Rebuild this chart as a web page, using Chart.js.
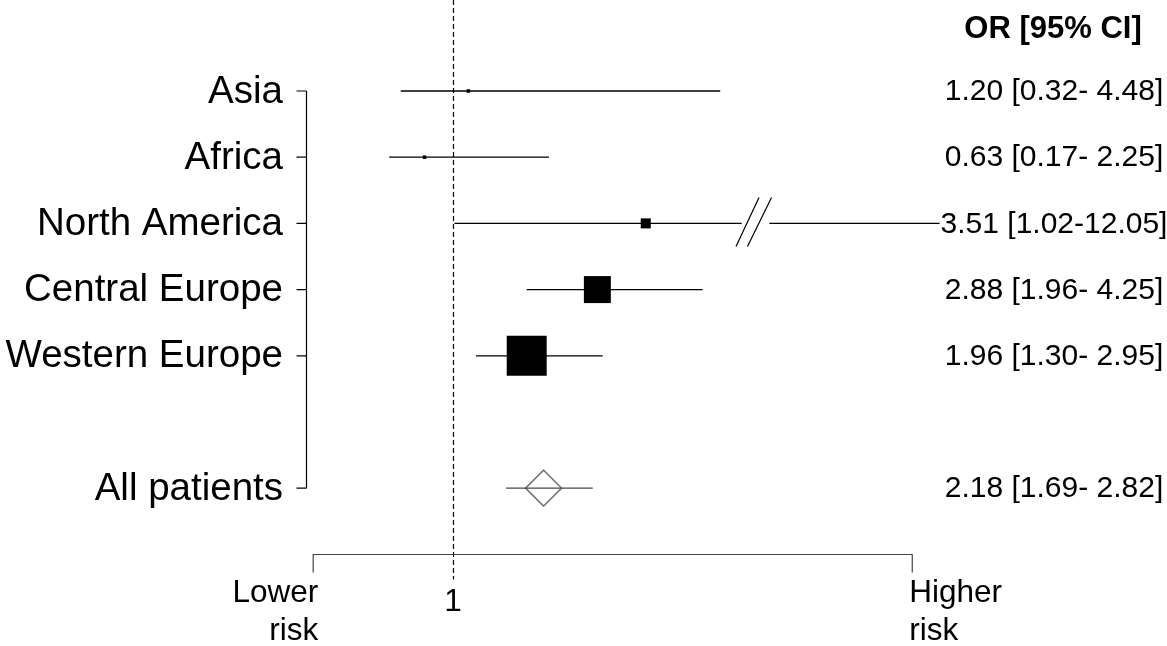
<!DOCTYPE html>
<html>
<head>
<meta charset="utf-8">
<script src="https://cdn.jsdelivr.net/npm/chart.js@4.4.1/dist/chart.umd.min.js"></script>
<style>
  html, body { margin: 0; padding: 0; background: #fff; }
  #wrap { width: 1167px; height: 646px; position: relative; }
</style>
</head>
<body>
<div id="wrap"><canvas id="forest"></canvas></div>
<script>
// forest plot data
const regions = ["Asia", "Africa", "North America", "Central Europe", "Western Europe", "All patients"];
const rowPos = [1, 2, 3, 4, 5, 7];
const oddsRatio = [1.20, 0.63, 3.51, 2.88, 1.96, 2.18];
const ciLow = [0.32, 0.17, 1.02, 1.96, 1.30, 1.69];
const ciHigh = [4.48, 2.25, 12.05, 4.25, 2.95, 2.82];
const weightPct = [0.5, 0.5, 4.1, 29.7, 65.2]; // study rows only, pooled row is a diamond
const naBreak = [4.76, 5.12]; // axis break drawn on the North America line
const riskAxis = [-0.82, 6.98]; // ends of the bottom "Lower risk / Higher risk" axis
const axisRow = 8;
const headerText = "OR [95% CI]";

function fmtCI(i) {
    const hi = ciHigh[i].toFixed(2).padStart(5, " ");
    return `${oddsRatio[i].toFixed(2)} [${ciLow[i].toFixed(2)}-${hi}]`;
}

const FONT = '"Liberation Sans", Arial, sans-serif';

// CI lines, one dataset per row
const ciSets = regions.map((name, i) => {
    let pts;
    if (name === "North America") {
        pts = [
            { x: ciLow[i], y: rowPos[i] },
            { x: naBreak[0], y: rowPos[i] },
            { x: (naBreak[0] + naBreak[1]) / 2, y: null },
            { x: naBreak[1], y: rowPos[i] },
            { x: ciHigh[i], y: rowPos[i] }
        ];
    } else {
        pts = [{ x: ciLow[i], y: rowPos[i] }, { x: ciHigh[i], y: rowPos[i] }];
    }
    const last = i === regions.length - 1;
    return {
        label: name + " CI",
        data: pts,
        showLine: true,
        spanGaps: false,
        borderColor: last ? "#4a4a4a" : "#000",
        borderWidth: 1.3,
        pointRadius: 0,
        order: 2
    };
});

const boxSet = {
    label: "OR",
    data: weightPct.map((w, i) => ({ x: oddsRatio[i], y: rowPos[i] })),
    pointStyle: "rect",
    pointRadius: weightPct.map(w => 4.95 * Math.sqrt(w) / Math.SQRT2),
    backgroundColor: "#000",
    borderColor: "#000",
    borderWidth: 0,
    order: 1
};

const last = regions.length - 1;
const diamondSet = {
    label: "Pooled",
    data: [{ x: oddsRatio[last], y: rowPos[last] }],
    pointStyle: "rectRot",
    pointRadius: 18,
    backgroundColor: "rgba(0,0,0,0)",
    borderColor: "#7a7a7a",
    borderWidth: 1.6,
    order: 3
};

const frame = {
    id: "forestFrame",
    beforeDatasetsDraw(chart) {
        const { ctx, scales: { x, y } } = chart;
        const px = v => x.getPixelForValue(v);
        const py = v => y.getPixelForValue(v);
        ctx.save();
        ctx.strokeStyle = "#000";

        // reference line at OR = 1
        ctx.lineWidth = 1.2;
        ctx.setLineDash([5, 3]);
        ctx.beginPath();
        ctx.moveTo(Math.round(px(1)) + 0.5, 0);
        ctx.lineTo(Math.round(px(1)) + 0.5, py(axisRow) + 25);
        ctx.stroke();
        ctx.setLineDash([]);

        // bracket on the left
        const bx = 306.5;
        ctx.lineWidth = 1.2;
        ctx.beginPath();
        ctx.moveTo(bx, py(rowPos[0]));
        ctx.lineTo(bx, py(rowPos[last]));
        rowPos.forEach(r => {
            ctx.moveTo(bx - 10, py(r));
            ctx.lineTo(bx, py(r));
        });
        ctx.stroke();

        // bottom risk axis
        const ay = Math.round(py(axisRow)) + 0.5;
        ctx.strokeStyle = "#444";
        ctx.beginPath();
        ctx.moveTo(px(riskAxis[0]), ay + 18);
        ctx.lineTo(px(riskAxis[0]), ay);
        ctx.lineTo(px(riskAxis[1]), ay);
        ctx.lineTo(px(riskAxis[1]), ay + 18);
        ctx.stroke();
        ctx.restore();
    },
    afterDatasetsDraw(chart) {
        const { ctx, scales: { x, y }, chartArea } = chart;
        const px = v => x.getPixelForValue(v);
        const py = v => y.getPixelForValue(v);
        ctx.save();
        ctx.fillStyle = "#000";
        ctx.textBaseline = "middle";

        // axis break marks
        const ny = py(rowPos[2]);
        ctx.strokeStyle = "#000";
        ctx.lineWidth = 1.2;
        ctx.beginPath();
        ctx.moveTo(736, ny + 23); ctx.lineTo(759, ny - 26);
        ctx.moveTo(747.5, ny + 23); ctx.lineTo(771.5, ny - 26);
        ctx.stroke();

        // row labels
        ctx.font = `38.5px ${FONT}`;
        ctx.textAlign = "right";
        regions.forEach((name, i) => ctx.fillText(name, 283, py(rowPos[i]) + 1));

        // header + OR values
        const cx = chartArea.right - 113;
        ctx.textAlign = "center";
        ctx.font = `bold 31px ${FONT}`;
        ctx.fillText(headerText, cx - 1, 29);
        ctx.font = `30px ${FONT}`;
        regions.forEach((name, i) => {
            const s = fmtCI(i);
            const w = ctx.measureText(s).width;
            const ty = py(rowPos[i]) + 1;
            ctx.fillStyle = "#fff";
            ctx.fillRect(cx - w / 2 - 1, ty - 16, w + 2, 32);
            ctx.fillStyle = "#000";
            ctx.fillText(s, cx, ty);
        });

        // bottom axis labels
        const ay = py(axisRow);
        ctx.font = `31.5px ${FONT}`;
        ctx.textAlign = "center";
        ctx.fillText("1", px(1), ay + 48);
        ctx.textAlign = "right";
        ctx.fillText("Lower", px(riskAxis[0]) + 5, ay + 39);
        ctx.fillText("risk", px(riskAxis[0]) + 5, ay + 77);
        ctx.textAlign = "left";
        ctx.fillText("Higher", px(riskAxis[1]) - 3, ay + 39);
        ctx.fillText("risk", px(riskAxis[1]) - 3, ay + 77);
        ctx.restore();
    }
};

new Chart(document.getElementById("forest"), {
    type: "scatter",
    data: { datasets: [...ciSets, boxSet, diamondSet] },
    options: {
        responsive: true,
        maintainAspectRatio: false,
        animation: false,
        layout: { padding: 0, autoPadding: false },
        plugins: { legend: { display: false }, tooltip: { enabled: false } },
        scales: {
            x: { type: "linear", display: false, min: -4.898, max: 10.297 },
            y: { type: "linear", display: false, reverse: true, min: -0.3746, max: 9.384 }
        }
    },
    plugins: [frame]
});
</script>
</body>
</html>
